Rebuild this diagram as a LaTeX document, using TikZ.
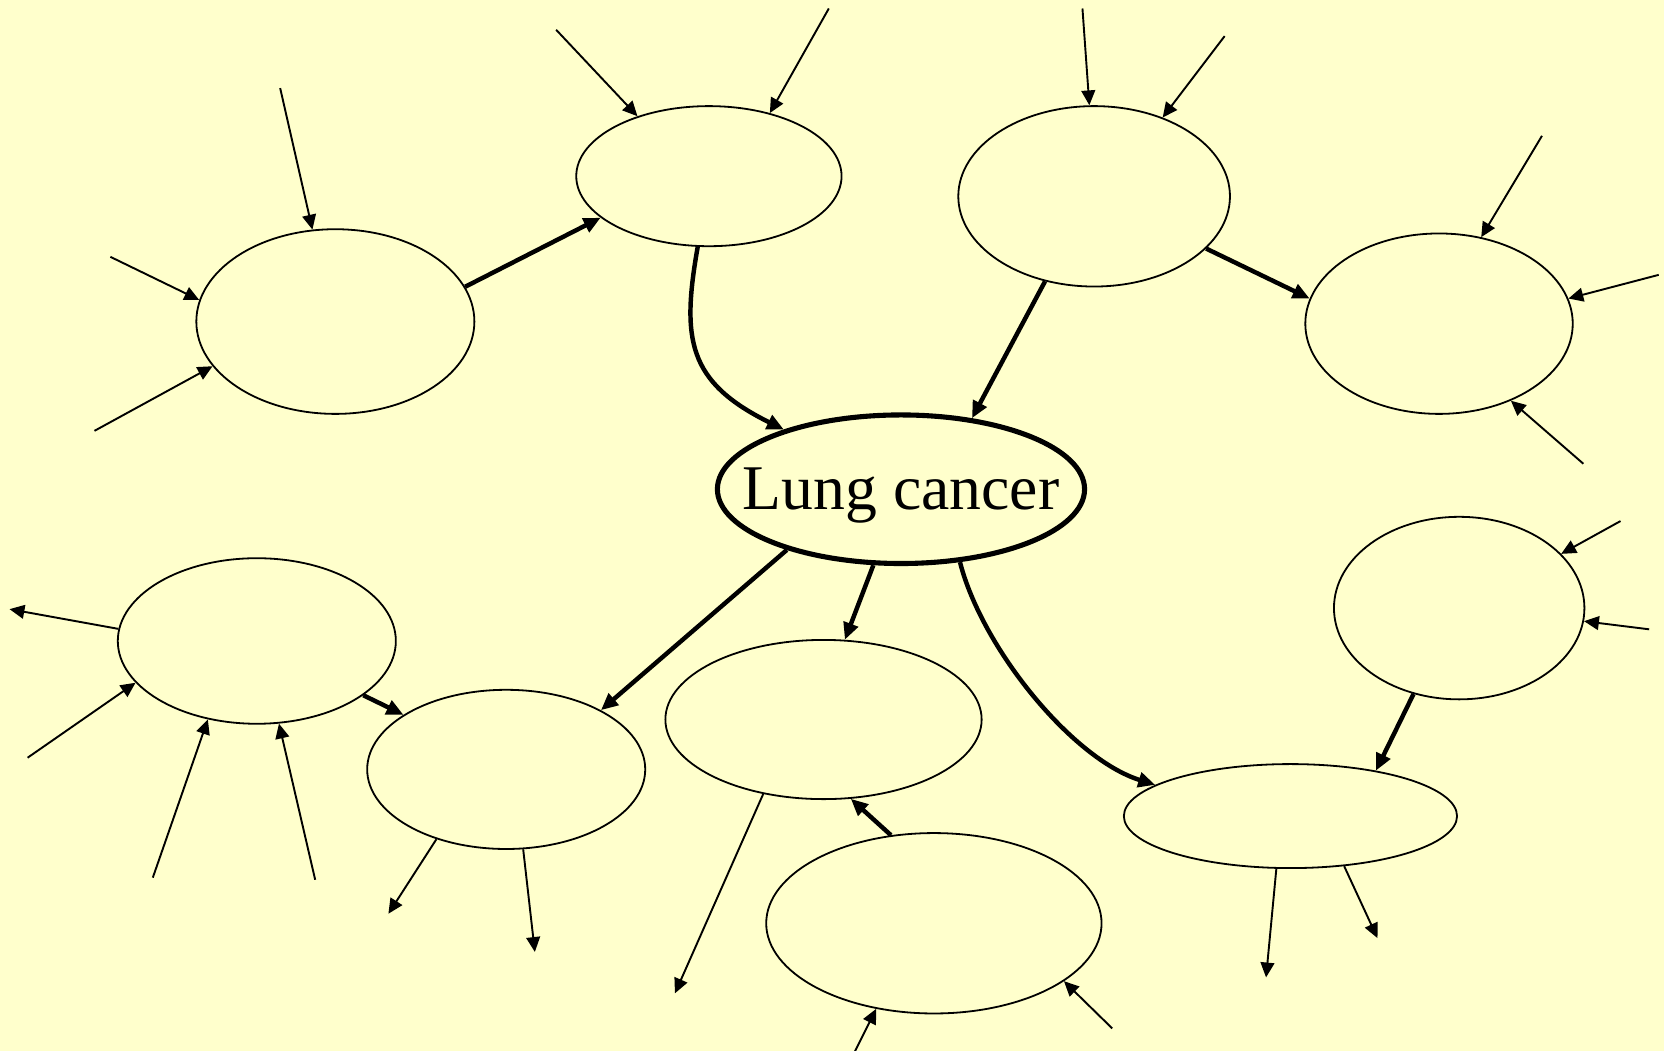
\documentclass[tikz,border=0pt]{standalone}
\usepackage{fontspec}
\setmainfont{Liberation Serif}
\usetikzlibrary{arrows.meta,shapes.geometric}
\definecolor{paper}{RGB}{255,255,204}
\begin{document}
\begin{tikzpicture}[x=1pt,y=-1pt,
  bubble/.style={ellipse,draw,line width=1.7pt,inner sep=0pt,fill=paper},
  thin/.style={line width=1.8pt,-{Triangle[length=14pt,width=13pt]}},
  thick/.style={line width=4.2pt,-{Triangle[length=16pt,width=14pt]}}]
\fill[paper] (0,0) rectangle (1568,990);
\useasboundingbox (0,0) rectangle (1568,990);

% concept bubbles
\node[bubble,minimum width=262pt,minimum height=174pt] (A) at (316,303) {};
\node[bubble,minimum width=250pt,minimum height=132pt] (B) at (668,166) {};
\node[bubble,minimum width=256pt,minimum height=170pt] (C) at (1031,185) {};
\node[bubble,minimum width=252pt,minimum height=170pt] (D) at (1356,305) {};
\node[bubble,minimum width=262pt,minimum height=156pt] (E) at (242,604) {};
\node[bubble,minimum width=262pt,minimum height=150pt] (F) at (477,725) {};
\node[bubble,minimum width=298pt,minimum height=150pt] (G) at (776,678) {};
\node[bubble,minimum width=316pt,minimum height=170pt] (H) at (880,870) {};
\node[bubble,minimum width=236pt,minimum height=172pt] (I) at (1375,573) {};
\node[bubble,minimum width=314pt,minimum height=98pt] (J) at (1216,769) {};

% central concept
\node[bubble,line width=4.8pt,minimum width=346pt,minimum height=140pt] (L) at (849,461) {};
\node[anchor=base,inner sep=0pt,font=\fontsize{60}{72}\selectfont] (Ltext) at (849,480) {Lung cancer};

% main links
\draw[thick] (A.15.9) -- (B.201);
\draw[thick] (B.261.5) .. controls (642,320) and (648,360) .. (L.153.4);
\draw[thick] (C.240.6) -- (L.45.9);
\draw[thick] (C.-25) -- (D.169.3);
\draw[thick] (L.208.5) -- (F.32.9);
\draw[thick] (L.250.4) -- (G.75.8);
\draw[thick] (L.-51.3) .. controls (925,610) and (1010,715) .. (J.167.4);
\draw[thick] (I.242.9) -- (J.28.3);
\draw[thick] (E.-27.2) -- (F.152);
\draw[thick] (H.116.8) -- (G.-71.8);

% loose ends
\coordinate (a1) at (264,83);
\coordinate (a2) at (104,242);
\coordinate (a3) at (89,406);
\coordinate (b1) at (524,28);
\coordinate (b2) at (781,8);
\coordinate (c1) at (1020,8);
\coordinate (c2) at (1154,34);
\coordinate (d1) at (1453,128);
\coordinate (d2) at (1563,259);
\coordinate (d3) at (1492,437);
\coordinate (i1) at (1527,491);
\coordinate (i2) at (1554,593);
\coordinate (e1) at (9,574);
\coordinate (e2) at (26,714);
\coordinate (e3) at (144,827);
\coordinate (e4) at (297,829);
\coordinate (f1) at (366,861);
\coordinate (f2) at (504,897);
\coordinate (g1) at (636,936);
\coordinate (h1) at (1048,969);
\coordinate (h2) at (803,996);
\coordinate (j1) at (1193,921);
\coordinate (j2) at (1298,884);

% incoming influences
\draw[thin] (a1) -- (A.104.8);
\draw[thin] (a2) -- (A.171.3);
\draw[thin] (a3) -- (A.200.5);
\draw[thin] (b1) -- (B.140.4);
\draw[thin] (b2) -- (B.46.5);
\draw[thin] (c1) -- (C.93.4);
\draw[thin] (c2) -- (C.49);
\draw[thin] (d1) -- (D.64.5);
\draw[thin] (d2) -- (D.11.9);
\draw[thin] (d3) -- (D.-47.5);
\draw[thin] (i1) -- (I.28.4);
\draw[thin] (i2) -- (I.-6.3);
\draw[thin] (e2) -- (E.199.8);
\draw[thin] (e3) -- (E.238.5);
\draw[thin] (e4) -- (E.285.8);
\draw[thin] (h1) -- (H.-24.8);
\draw[thin] (h2) -- (H.236.5);

% outgoing effects
\draw[thin] (E.175.2) -- (e1);
\draw[thin] (F.225.9) -- (f1);
\draw[thin] (F.282) -- (f2);
\draw[thin] (G.231.8) -- (g1);
\draw[thin] (J.255.1) -- (j1);
\draw[thin] (J.-43.9) -- (j2);
\end{tikzpicture}
\end{document}
